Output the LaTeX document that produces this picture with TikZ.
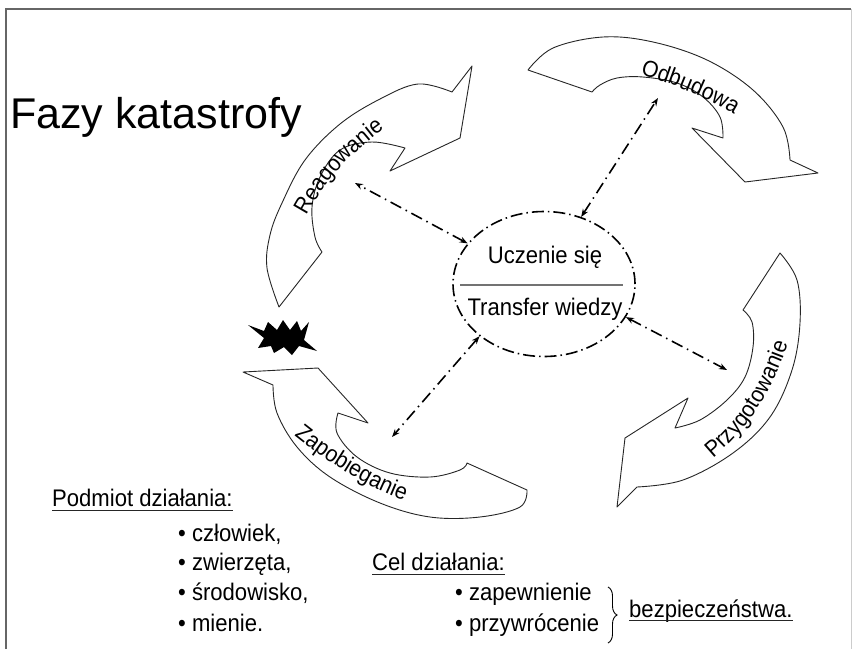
\documentclass[tikz,border=0pt]{standalone}
\usepackage{fontspec}
\setmainfont[FakeStretch=0.92]{Liberation Sans}
\newfontfamily\titlefont{Liberation Sans}
\usetikzlibrary{arrows.meta,shapes.geometric,decorations.pathreplacing,decorations.text,calc}
\newcommand\lblfont{\fontsize{23}{23}\selectfont}
\begin{document}
\begin{tikzpicture}[x=1pt,y=-1pt,
  phase/.style={fill=white,draw=black!85,line width=0.9pt,line join=round},
  conn/.style={line width=1.6pt,dash pattern=on 12pt off 5pt on 1.5pt off 5pt,
    {Stealth[length=8pt,width=6pt]}-{Stealth[length=8pt,width=6pt]}},
  txt/.style={font=\fontsize{24}{28}\selectfont,inner sep=0pt,anchor=base west},
  ctxt/.style={font=\fontsize{24}{28}\selectfont,inner sep=0pt},
  uline/.style={line width=1pt,black!85},
  curvelabel/.style={decorate,decoration={text along path,text={|\lblfont|#1},text align=center}}
]
\useasboundingbox (0,0) rectangle (856,649);
% frame
\draw[black!60,line width=1.2pt] (6,649) -- (6,9) -- (851,9);
\draw[black!20,line width=0.8pt] (851,9) -- (851,649);

% title
\node[txt,font=\titlefont\fontsize{43}{43}\selectfont] (title) at (10,128) {Fazy katastrofy};

% Reagowanie arrow
\draw[phase] plot[smooth,tension=0.6] coordinates {(279,307) (267,268) (270,235) (282,203) (305,160) (340,124) (380,99) (418,84) (452,92)}
  -- (472,66) -- (460,138) -- (390,171) -- (405,148)
  -- plot[smooth,tension=0.6] coordinates {(405,148) (372,142) (340,150) (320,177) (312,207) (315,237) (322,252)} -- cycle;
% Odbudowa arrow
\draw[phase] plot[smooth,tension=0.6] coordinates {(528,70) (553,48) (603,37) (653,42) (707,60) (753,90) (783,127) (790,160)}
  -- (818,173) -- (745,182) -- (692,128) -- (723,138)
  -- plot[smooth,tension=0.6] coordinates {(723,138) (720,117) (703,97) (677,83) (643,77) (617,78) (600,85) (592,92)} -- cycle;
% Przygotowanie arrow
\draw[phase] (780,253) -- (743,310)
  -- plot[smooth,tension=0.6] coordinates {(743,310) (752,322) (753,347) (745,377) (727,400) (700,420) (675,428)}
  -- (688,398) -- (625,438) -- (617,507) -- (637,487)
  -- plot[smooth,tension=0.6] coordinates {(637,487) (683,480) (733,453) (770,417) (792,370) (800,323) (797,280) (780,253)} -- cycle;
% Zapobieganie arrow
\draw[phase] (243,372) -- (318,368) -- (368,423) -- (338,413)
  -- plot[smooth,tension=0.6] coordinates {(338,413) (337,433) (357,457) (390,473) (430,477) (460,470) (467,463)}
  -- (527,490)
  -- plot[smooth,tension=0.6] coordinates {(527,490) (520,507) (480,517) (430,517) (380,503) (330,477) (297,447) (277,413) (273,385)} -- cycle;

% labels on arrows
\path[curvelabel=Reagowanie] (300,230) .. controls (312,198) and (350,148) .. (398,120);
\path[curvelabel=Odbudowa] (628,71) .. controls (660,79) and (705,95) .. (745,121);
\path[curvelabel=Przygotowanie] (700,468) .. controls (736,443) and (771,403) .. (793,328);
\path[curvelabel=Zapobieganie] (290,432) .. controls (318,455) and (360,485) .. (409,502);

% starburst
\fill[black] (248,325) -- (264,331) -- (268,322) -- (277,330) -- (283,320) -- (290,330) -- (297,321) -- (301,331) -- (309,322) -- (304,340) -- (317,351) -- (299,346) -- (292,355) -- (284,347) -- (274,353) -- (271,346) -- (258,348) -- (264,338) -- cycle;

% centre
\node[ellipse,draw,line width=1.6pt,dash pattern=on 12pt off 4pt on 1.5pt off 4pt,
  minimum width=182pt,minimum height=145pt,inner sep=0pt] (E) at (544,284) {};
\node[ctxt] (learn) at (545,257) {Uczenie się};
\node[ctxt] (transfer) at (545,309) {Transfer wiedzy};
\coordinate (divL) at (460,285);
\coordinate (divR) at (623,285);
\draw[black!55,line width=1.2pt] (divL) -- (divR);

% connectors
\coordinate (rA) at (355,183);
\coordinate (oA) at (658,98);
\coordinate (pA) at (727,370);
\coordinate (zA) at (392,437);
\draw[conn] (E.152) -- (rA);
\draw[conn] (E.61) -- (oA);
\draw[conn] (E.338) -- (pA);
\draw[conn] (E.219) -- (zA);

% bottom text
\node[txt] (pd) at (52,506) {Podmiot działania:};
\draw[uline] ($(pd.base west)+(0,4)$) -- ($(pd.base east)+(0,4)$);
\node[txt] (b1) at (178,541) {• człowiek,};
\node[txt] (b2) at (178,570) {• zwierzęta,};
\node[txt] (b3) at (178,600) {• środowisko,};
\node[txt] (b4) at (178,631) {• mienie.};
\node[txt] (cd) at (372,570) {Cel działania:};
\draw[uline] ($(cd.base west)+(0,4)$) -- ($(cd.base east)+(0,4)$);
\node[txt] (c1) at (455,600) {• zapewnienie};
\node[txt] (c2) at (455,631) {• przywrócenie};
\coordinate (br1) at (608,587);
\coordinate (br2) at (608,643);
\draw[line width=0.9pt,decorate,decoration={brace,amplitude=9pt}] (br1) -- (br2);
\node[txt] (bz) at (629,617) {bezpieczeństwa.};
\draw[uline] ($(bz.base west)+(0,3)$) -- ($(bz.base east)+(0,3)$);
\end{tikzpicture}
\end{document}
